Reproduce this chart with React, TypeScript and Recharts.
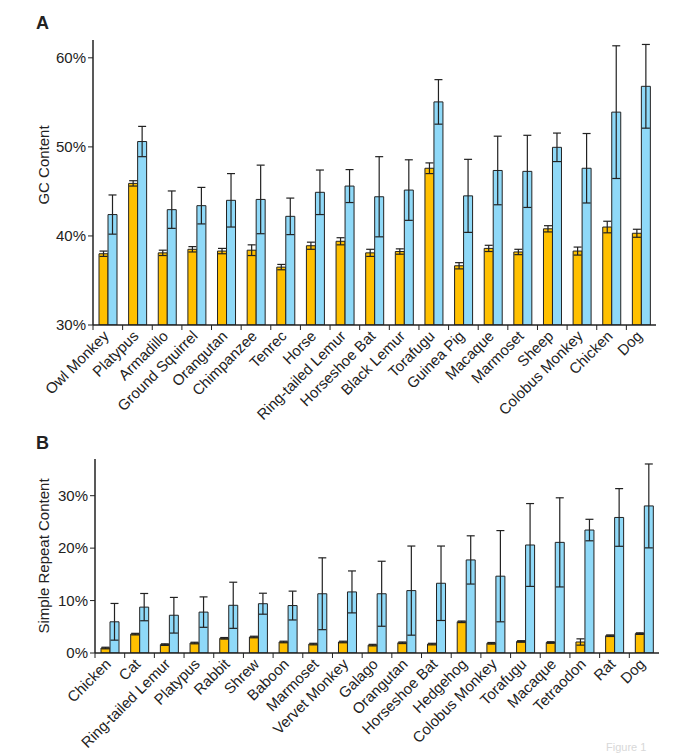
import React from "react";
import { BarChart, Bar, XAxis, YAxis, ErrorBar } from "recharts";

// Panel A: GC content
const gcSpecies = [
  "Owl Monkey", "Platypus", "Armadillo", "Ground Squirrel", "Orangutan",
  "Chimpanzee", "Tenrec", "Horse", "Ring-tailed Lemur", "Horseshoe Bat",
  "Black Lemur", "Torafugu", "Guinea Pig", "Macaque", "Marmoset",
  "Sheep", "Colobus Monkey", "Chicken", "Dog",
];
const gcGenome = [38.0, 45.9, 38.1, 38.5, 38.3, 38.4, 36.5, 38.9, 39.4, 38.1, 38.25, 47.6, 36.65, 38.6, 38.2, 40.8, 38.3, 41.0, 40.3];
const gcGenomeErr = [0.3, 0.3, 0.3, 0.3, 0.3, 0.6, 0.3, 0.4, 0.4, 0.4, 0.3, 0.6, 0.35, 0.35, 0.3, 0.35, 0.45, 0.65, 0.45];
const gcRepeat = [42.4, 50.6, 42.95, 43.4, 44.0, 44.1, 42.2, 44.9, 45.6, 44.4, 45.15, 55.05, 44.5, 47.35, 47.25, 49.95, 47.6, 53.9, 56.8];
const gcRepeatErr = [2.2, 1.7, 2.1, 2.05, 3.0, 3.85, 2.05, 2.5, 1.85, 4.5, 3.4, 2.5, 4.1, 3.85, 4.05, 1.6, 3.9, 7.45, 4.7];

// Panel B: simple repeat content
const srSpecies = [
  "Chicken", "Cat", "Ring-tailed Lemur", "Platypus", "Rabbit", "Shrew",
  "Baboon", "Marmoset", "Vervet Monkey", "Galago", "Orangutan",
  "Horseshoe Bat", "Hedgehog", "Colobus Monkey", "Torafugu", "Macaque",
  "Tetraodon", "Rat", "Dog",
];
const srGenome = [0.95, 3.6, 1.6, 1.9, 2.8, 3.05, 2.1, 1.7, 2.1, 1.5, 1.95, 1.7, 5.95, 1.85, 2.2, 2.0, 2.1, 3.3, 3.7];
const srGenomeErr = [0.15, 0.15, 0.15, 0.15, 0.15, 0.15, 0.15, 0.15, 0.15, 0.15, 0.15, 0.15, 0.15, 0.15, 0.15, 0.15, 0.6, 0.15, 0.15];
const srRepeat = [5.95, 8.75, 7.2, 7.8, 9.1, 9.4, 9.05, 11.3, 11.65, 11.3, 11.9, 13.3, 17.75, 14.65, 20.6, 21.1, 23.45, 25.85, 28.05];
const srRepeatErr = [3.5, 2.6, 3.4, 2.9, 4.4, 2.0, 2.75, 6.85, 4.0, 6.2, 8.5, 7.1, 4.6, 8.7, 7.9, 8.5, 2.05, 5.5, 8.0];

const gcData = gcSpecies.map((name, i) => ({
  name,
  genome: gcGenome[i],
  genomeErr: gcGenomeErr[i],
  repeat: gcRepeat[i],
  repeatErr: gcRepeatErr[i],
}));

const srData = srSpecies.map((name, i) => ({
  name,
  genome: srGenome[i],
  genomeErr: srGenomeErr[i],
  repeat: srRepeat[i],
  repeatErr: srRepeatErr[i],
}));

const ORANGE = "#FFC000";
const BLUE = "#8FD9F8";
const INK = "#222";
const FONT = "'Liberation Sans', Arial, Helvetica, sans-serif";

const W = 685;

const CatTick = (props: any) => {
  const { x, y, payload, band } = props;
  const tx = x + 2;
  const ty = y + 12;
  return (
    <g>
      <line x1={x - band / 2} x2={x - band / 2} y1={y} y2={y + 5} stroke={INK} />
      <text
        x={tx}
        y={ty}
        transform={`rotate(-45 ${tx} ${ty})`}
        textAnchor="end"
        fontSize={15}
        fill={INK}
        fontFamily={FONT}
      >
        {payload.value}
      </text>
    </g>
  );
};

function Panel({ data, top, height, margin, yWidth, domain, ticks, plotHeight, barSize }: any) {
  const band = (W - margin.right - yWidth) / data.length;
  return (
    <div style={{ position: "absolute", left: 0, top, width: W, height }}>
      <BarChart
        width={W}
        height={height}
        data={data}
        margin={margin}
        barGap={0}
        barSize={barSize}
      >
        <XAxis
          dataKey="name"
          interval={0}
          tickSize={0}
          tickMargin={0}
          tickLine={false}
          axisLine={{ stroke: INK, strokeWidth: 1.5 }}
          height={height - margin.top - margin.bottom - plotHeight}
          tick={<CatTick band={band} />}
        />
        <YAxis
          width={yWidth}
          domain={domain}
          ticks={ticks}
          allowDataOverflow
          tickFormatter={(v: number) => `${v}%`}
          tickSize={5}
          tickLine={{ stroke: INK }}
          axisLine={{ stroke: INK, strokeWidth: 1.5 }}
          tick={{ fontSize: 15, fill: INK, fontFamily: FONT }}
        />
        <Bar dataKey="genome" fill={ORANGE} stroke={INK} strokeWidth={1} isAnimationActive={false}>
          <ErrorBar dataKey="genomeErr" width={4} stroke={INK} strokeWidth={1.2} direction="y" />
        </Bar>
        <Bar dataKey="repeat" fill={BLUE} stroke={INK} strokeWidth={1} isAnimationActive={false}>
          <ErrorBar dataKey="repeatErr" width={4} stroke={INK} strokeWidth={1.2} direction="y" />
        </Bar>
      </BarChart>
    </div>
  );
}

export default function App() {
  return (
    <div
      style={{
        position: "absolute",
        left: 0,
        top: 0,
        width: W,
        height: 756,
        background: "#fff",
        overflow: "hidden",
        fontFamily: FONT,
        color: INK,
      }}
    >
      <Panel
        data={gcData}
        top={0}
        height={425}
        margin={{ top: 40, right: 29, bottom: 0, left: 0 }}
        yWidth={93}
        domain={[30, 62]}
        ticks={[30, 40, 50, 60]}
        plotHeight={285}
        barSize={9}
      />
      <Panel
        data={srData}
        top={420}
        height={336}
        margin={{ top: 39, right: 26, bottom: 0, left: 0 }}
        yWidth={95}
        domain={[0, 37]}
        ticks={[0, 10, 20, 30]}
        plotHeight={194}
        barSize={9}
      />
      <div style={{ position: "absolute", left: 36, top: 13, fontSize: 18, fontWeight: "bold" }}>A</div>
      <div style={{ position: "absolute", left: 36, top: 433, fontSize: 18, fontWeight: "bold" }}>B</div>
      <div
        style={{
          position: "absolute",
          left: 43,
          top: 165,
          fontSize: 15,
          whiteSpace: "nowrap",
          transform: "translate(-50%, -50%) rotate(-90deg)",
        }}
      >
        GC Content
      </div>
      <div
        style={{
          position: "absolute",
          left: 43,
          top: 556,
          fontSize: 15,
          whiteSpace: "nowrap",
          transform: "translate(-50%, -50%) rotate(-90deg)",
        }}
      >
        Simple Repeat Content
      </div>
      <div style={{ position: "absolute", left: 606, top: 741, fontSize: 11, color: "#d8d8d8" }}>Figure 1</div>
    </div>
  );
}
